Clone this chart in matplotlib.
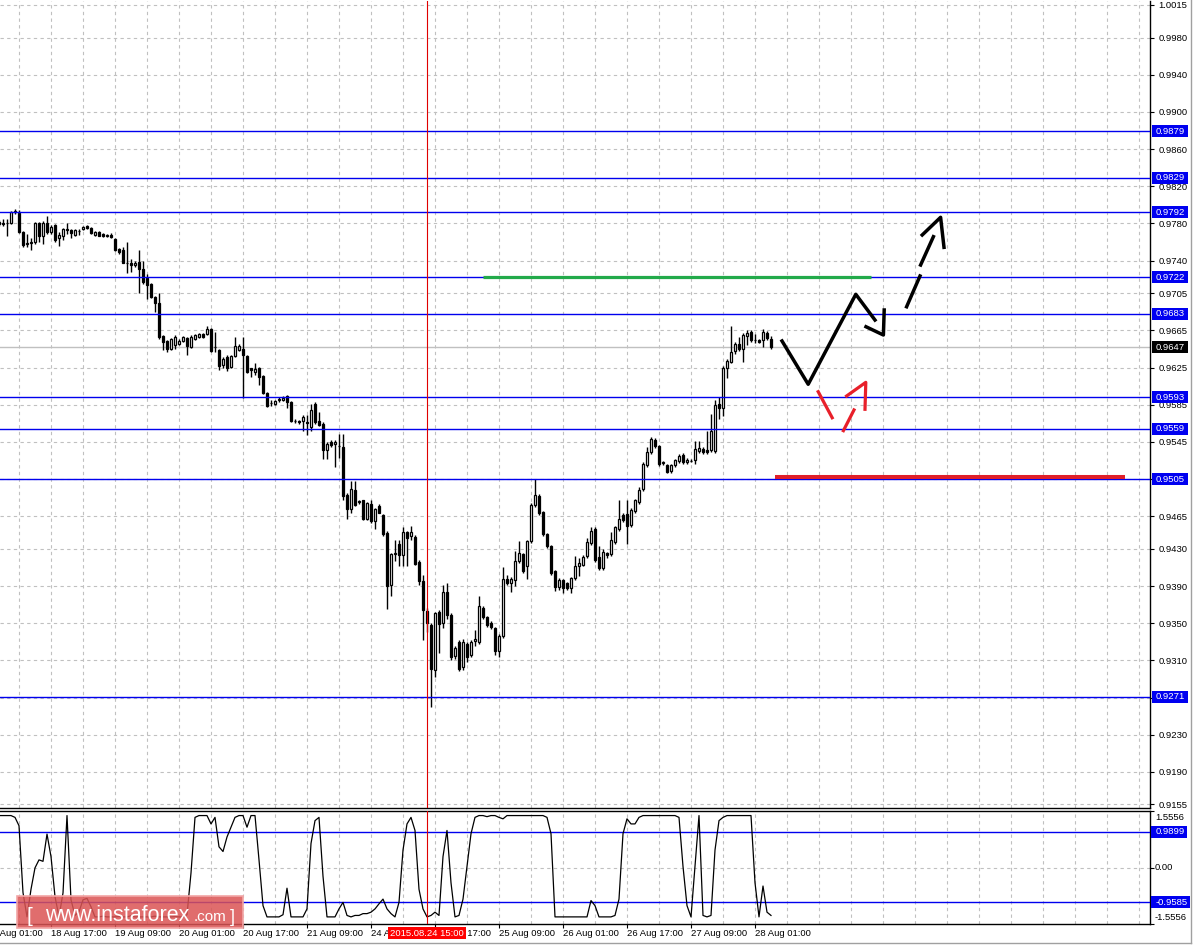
import matplotlib
matplotlib.use("Agg")
import matplotlib.pyplot as plt
import matplotlib.transforms as mtransforms
from matplotlib.patches import Rectangle
from matplotlib.lines import Line2D
import numpy as np

plt.rcParams['font.family'] = ['Liberation Sans', 'DejaVu Sans']

# ---------------- data (H1 bars, index 0 = 18 Aug 01:00) ----------------
first_bar = 3
opens = [
    .9779, .9780, .9780, .9780, .9792, .9791, .9771, .9758, .9759, .9760,
    .9780, .9767, .9780, .9771, .9778, .9764, .9767, .9773, .9773, .9768,
    .9772, .9774, .9777, .9775, .9768, .9771, .9769, .9767, .9768, .9763,
    .9753, .9751, .9738, .9738, .9735, .9739, .9731, .9721, .9715, .9701,
    .9694, .9659, .9654, .9645, .9649, .9650, .9654, .9657, .9647, .9656,
    .9658, .9661, .9661, .9667, .9647, .9644, .9628, .9636, .9626, .9637,
    .9644, .9645, .9637, .9624, .9620, .9624, .9616, .9598, .9587, .9586,
    .9590, .9590, .9594, .9588, .9567, .9568, .9567, .9566, .9561, .9586,
    .9568, .9564, .9536, .9545, .9543, .9541, .9539, .9488, .9473, .9493,
    .9480, .9482, .9462, .9478, .9460, .9476, .9466, .9447, .9391, .9424,
    .9435, .9423, .9448, .9444, .9443, .9416, .9395, .9363, .9348, .9300,
    .9362, .9350, .9384, .9359, .9315, .9330, .9303, .9328, .9316, .9331,
    .9330, .9366, .9357, .9350, .9345, .9320, .9336, .9398, .9393, .9397,
    .9417, .9424, .9411, .9438, .9477, .9487, .9470, .9446, .9433, .9406,
    .9389, .9397, .9393, .9388, .9399, .9411, .9413, .9422, .9436, .9451,
    .9421, .9409, .9425, .9424, .9437, .9451, .9466, .9467, .9456, .9471,
    .9480, .9494, .9520, .9534, .9547, .9541, .9522, .9520, .9514, .9520,
    .9524, .9531, .9523, .9525, .9526, .9535, .9537, .9536, .9536, .9535,
    .9586, .9582, .9624, .9631, .9643, .9650, .9645, .9659, .9663, .9655,
    .9655, .9655, .9662, .9656]
highs = [
    .9784, .9785, .9785, .9793, .9796, .9795, .9772, .9769, .9764, .9782,
    .9782, .9783, .9788, .9778, .9779, .9771, .9775, .9781, .9774, .9774,
    .9774, .9777, .9778, .9776, .9772, .9772, .9770, .9769, .9770, .9764,
    .9754, .9755, .9760, .9742, .9740, .9751, .9740, .9726, .9716, .9702,
    .9705, .9660, .9655, .9657, .9660, .9656, .9659, .9658, .9660, .9661,
    .9662, .9662, .9670, .9668, .9663, .9645, .9636, .9639, .9639, .9658,
    .9650, .9658, .9638, .9625, .9630, .9626, .9617, .9599, .9590, .9590,
    .9593, .9594, .9595, .9589, .9570, .9569, .9574, .9574, .9586, .9588,
    .9577, .9566, .9545, .9547, .9547, .9553, .9553, .9490, .9503, .9503,
    .9482, .9483, .9480, .9482, .9474, .9478, .9467, .9449, .9426, .9439,
    .9440, .9454, .9449, .9455, .9445, .9418, .9402, .9366, .9350, .9362,
    .9364, .9391, .9393, .9361, .9326, .9332, .9333, .9330, .9332, .9343,
    .9379, .9368, .9358, .9352, .9346, .9338, .9410, .9402, .9400, .9428,
    .9438, .9426, .9440, .9479, .9505, .9489, .9471, .9447, .9434, .9407,
    .9399, .9398, .9394, .9400, .9422, .9420, .9423, .9442, .9453, .9453,
    .9433, .9430, .9427, .9448, .9455, .9482, .9468, .9482, .9474, .9484,
    .9496, .9523, .9539, .9550, .9549, .9542, .9524, .9521, .9521, .9527,
    .9532, .9533, .9528, .9527, .9546, .9546, .9539, .9557, .9575, .9590,
    .9593, .9627, .9634, .9670, .9652, .9658, .9662, .9665, .9665, .9661,
    .9656, .9666, .9664, .9659]
lows = [
    .9777, .9777, .9767, .9779, .9790, .9770, .9755, .9755, .9751, .9758,
    .9760, .9758, .9769, .9769, .9760, .9756, .9762, .9769, .9764, .9766,
    .9768, .9773, .9774, .9769, .9767, .9766, .9765, .9765, .9764, .9750,
    .9747, .9737, .9727, .9728, .9733, .9705, .9715, .9699, .9700, .9685,
    .9656, .9644, .9642, .9644, .9645, .9649, .9653, .9639, .9646, .9655,
    .9657, .9657, .9660, .9642, .9642, .9622, .9624, .9621, .9624, .9636,
    .9643, .9592, .9619, .9615, .9617, .9606, .9597, .9583, .9584, .9585,
    .9588, .9589, .9581, .9566, .9565, .9564, .9557, .9552, .9557, .9564,
    .9562, .9527, .9527, .9540, .9518, .9528, .9482, .9462, .9468, .9476,
    .9478, .9461, .9461, .9458, .9451, .9468, .9444, .9365, .9379, .9417,
    .9411, .9411, .9411, .9440, .9413, .9391, .9332, .9340, .9260, .9292,
    .9318, .9345, .9355, .9310, .9312, .9299, .9300, .9308, .9314, .9325,
    .9328, .9355, .9346, .9344, .9316, .9314, .9334, .9391, .9384, .9390,
    .9415, .9404, .9398, .9436, .9475, .9466, .9444, .9431, .9402, .9385,
    .9386, .9383, .9386, .9383, .9397, .9401, .9412, .9420, .9434, .9416,
    .9407, .9407, .9420, .9422, .9435, .9449, .9459, .9435, .9454, .9469,
    .9478, .9492, .9518, .9532, .9538, .9519, .9520, .9512, .9512, .9518,
    .9522, .9521, .9521, .9523, .9521, .9533, .9532, .9532, .9534, .9533,
    .9570, .9573, .9614, .9630, .9640, .9643, .9631, .9649, .9653, .9651,
    .9651, .9647, .9655, .9645]
closes = [
    .9782, .9779, .9781, .9792, .9793, .9771, .9757, .9759, .9760, .9780,
    .9766, .9780, .9771, .9776, .9762, .9768, .9774, .9774, .9770, .9773,
    .9772, .9776, .9775, .9770, .9771, .9767, .9766, .9768, .9765, .9751,
    .9749, .9738, .9738, .9735, .9738, .9731, .9717, .9714, .9701, .9694,
    .9658, .9653, .9645, .9656, .9658, .9654, .9658, .9648, .9658, .9660,
    .9661, .9658, .9667, .9643, .9647, .9627, .9634, .9625, .9637, .9648,
    .9648, .9639, .9620, .9622, .9623, .9615, .9598, .9584, .9587, .9589,
    .9591, .9592, .9588, .9568, .9568, .9566, .9572, .9565, .9579, .9566,
    .9563, .9536, .9543, .9542, .9545, .9541, .9487, .9473, .9494, .9477,
    .9481, .9462, .9479, .9460, .9473, .9469, .9446, .9390, .9424, .9426,
    .9423, .9448, .9442, .9448, .9414, .9395, .9364, .9350, .9301, .9361,
    .9349, .9384, .9359, .9314, .9323, .9301, .9330, .9314, .9330, .9333,
    .9368, .9357, .9348, .9346, .9320, .9336, .9398, .9393, .9398, .9417,
    .9425, .9406, .9438, .9477, .9488, .9468, .9446, .9433, .9404, .9389,
    .9397, .9388, .9388, .9399, .9411, .9415, .9421, .9437, .9449, .9418,
    .9409, .9427, .9423, .9439, .9453, .9462, .9461, .9455, .9472, .9482,
    .9493, .9521, .9534, .9548, .9541, .9521, .9523, .9513, .9520, .9526,
    .9530, .9523, .9526, .9525, .9537, .9538, .9534, .9534, .9557, .9585,
    .9581, .9625, .9632, .9642, .9650, .9645, .9660, .9662, .9655, .9655,
    .9653, .9663, .9657, .9647]
indicator = [
    1.43, 1.43, 1.43, 1.43, 1.38, 1.15, -0.69, -1.36, -0.60, -0.01,
    0.21, 0.17, 0.92, 0.30, -0.80, -1.36, -0.70, 1.43, -0.89, -1.32,
    -1.22, -0.89, -0.85, -1.08, -1.36, -1.36, -1.34, -1.36, -1.36, -1.36,
    -1.35, -1.36, -1.36, -1.33, -1.36, -1.36, -1.36, -1.36, -1.36, -1.34,
    -1.36, -1.36, -1.36, -1.36, -1.35, -1.36, -1.36, -1.30, -0.15, 1.38,
    1.43, 1.43, 1.43, 1.20, 1.38, 0.57, 0.44, 0.84, 1.11, 1.38,
    1.43, 1.43, 1.11, 1.43, 1.43, 0.21, -1.05, -1.36, -1.36, -1.36,
    -1.36, -1.30, -0.57, -1.36, -1.36, -1.36, -1.36, -1.14, 0.66, 1.29,
    1.38, -0.24, -1.36, -1.36, -1.36, -1.14, -0.96, -1.32, -1.36, -1.32,
    -1.32, -1.27, -1.27, -1.23, -1.14, -1.00, -0.87, -1.14, -1.27, -1.36,
    -0.96, 0.48, 1.20, 1.38, 1.02, -0.60, -1.14, -1.36, -1.32, -1.23,
    -1.32, 0.30, 1.02, -0.42, -1.36, -1.32, -0.87, 0.03, 0.93, 1.38,
    1.43, 1.43, 1.40, 1.43, 1.43, 1.38, 1.34, 1.43, 1.43, 1.43,
    1.43, 1.43, 1.43, 1.43, 1.43, 1.43, 1.43, 1.38, 0.93, -1.36,
    -1.36, -1.36, -1.36, -1.36, -1.36, -1.36, -1.36, -1.36, -0.91, -1.05,
    -1.36, -1.36, -1.36, -1.36, -1.32, -0.87, 0.93, 1.34, 1.20, 1.20,
    1.38, 1.43, 1.43, 1.43, 1.43, 1.43, 1.43, 1.43, 1.43, 1.43,
    1.38, 0.03, -1.05, -1.36, 0.03, 1.43, -1.32, -1.36, -1.32, 0.48,
    1.29, 1.38, 1.43, 1.43, 1.43, 1.43, 1.43, 1.43, 1.43, -0.42,
    -1.36, -0.51, -1.23, -1.32]

time_labels = ['18 Aug 01:00', '18 Aug 17:00', '19 Aug 09:00', '20 Aug 01:00',
               '20 Aug 17:00', '21 Aug 09:00', '24 Aug 01:00', '24 Aug 17:00',
               '25 Aug 09:00', '26 Aug 01:00', '26 Aug 17:00', '27 Aug 09:00',
               '28 Aug 01:00']
time_label_bars = [0, 16, 32, 48, 64, 80, 96, 112, 128, 144, 160, 176, 192]

price_ticks = [1.0015, 0.9980, 0.9940, 0.9900, 0.9860, 0.9820, 0.9780, 0.9740,
               0.9705, 0.9665, 0.9625, 0.9585, 0.9545, 0.9505, 0.9465, 0.9430,
               0.9390, 0.9350, 0.9310, 0.9270, 0.9230, 0.9190, 0.9155]
level_lines = [0.9879, 0.9829, 0.9792, 0.9722, 0.9683, 0.9593, 0.9559, 0.9505, 0.9271]
bid_price = 0.9647
cursor_bar = 110
cursor_label = '2015.08.24 15:00'
ind_levels = [0.9899, -0.9585]
ind_extreme = 1.5556

# hand-drawn forecast objects (bar index, price)
green_bars = [124.0, 220.9]
green_prices = [0.9722, 0.9722]
red_bars = [197.0, 284.5]
red_prices = [0.9507, 0.9507]
zigzag_bars = [198.75, 205.3, 217.2, 222.0]
zigzag_prices = [0.96536, 0.96070, 0.97038, 0.96761]
zigzag_head_bars = [219.75, 224.1, 224.3]
zigzag_head_prices = [0.96689, 0.96600, 0.96869]
dash_segments = [([229.9, 233.25], [0.96904, 0.97235]),
                 ([233.4, 236.6], [0.97353, 0.97658])]
dash_head_bars = [233.8, 238.4, 239.25]
dash_head_prices = [0.97676, 0.97866, 0.97543]
red_dash_segments = [([207.8, 211.3], [0.95990, 0.95710]),
                     ([214.1, 216.75], [0.95571, 0.95794])]
red_head_bars = [214.9, 219.7, 219.5]
red_head_prices = [0.95944, 0.96091, 0.95801]

# ---------------- figure ----------------
W, H = 1194, 947
fig = plt.figure(figsize=(W / 100, H / 100), dpi=100)
fig.patch.set_facecolor('white')


def px_axes(x0, y0, x1, y1):
    return fig.add_axes([x0 / W, 1 - y1 / H, (x1 - x0) / W, (y1 - y0) / H])


AX_W = 1150
ax = px_axes(0, 1, AX_W, 808)
axi = px_axes(0, 811, AX_W, 924)

XL = (3.25, 290.75)
YL_MAIN = (0.91512, 1.00193)
MAIN_H = 807
IND_H = 113
GRID = dict(color='#C0C0C0', lw=0.8, ls=(0, (3, 3)), zorder=0)
FS = 6.8
BLUE_BOX = '#0000F0'

for a in (ax, axi):
    a.set_facecolor('white')
    for b in range(8, 291, 8):
        a.axvline(b, **GRID)
    a.spines['left'].set_visible(False)
    for s in ('right', 'bottom', 'top'):
        a.spines[s].set_color('black')
        a.spines[s].set_linewidth(1.0)
ax.spines['top'].set_visible(False)

# main panel
for p in price_ticks:
    ax.axhline(p, **GRID)
ax.yaxis.tick_right()
ax.set_yticks(price_ticks)
ax.set_yticklabels([f'{p:.4f}' for p in price_ticks])
ax.tick_params(axis='y', direction='out', length=3, width=0.8, pad=3, labelsize=FS)
ax.set_xticks([])

x = np.arange(first_bar, first_bar + len(opens))
o = np.array(opens); h = np.array(highs); l = np.array(lows); c = np.array(closes)
ax.vlines(x, l, h, color='black', lw=1.0, zorder=3)
bottoms = np.minimum(o, c)
heights = np.abs(c - o)
fcols = ['white' if cc >= oo else 'black' for oo, cc in zip(o, c)]
ax.bar(x, heights, width=0.62, bottom=bottoms, color=fcols, edgecolor='black',
       linewidth=0.9, zorder=4)

ax.axhline(bid_price, color='#C0C0C0', lw=1.0, zorder=2)
for lv in level_lines:
    ax.axhline(lv, color='#0000EE', lw=1.0, zorder=5)
ax.axvline(cursor_bar, color='#E00000', lw=0.8, zorder=6)

# forecast drawings
ax.plot(green_bars, green_prices, color='#22AA4A', lw=2.3, solid_capstyle='butt', zorder=7)
ax.plot(red_bars, red_prices, color='#E0202A', lw=2.9, solid_capstyle='butt', zorder=7)
ax.plot(zigzag_bars, zigzag_prices, color='black', lw=2.5, zorder=8)
ax.plot(zigzag_head_bars, zigzag_head_prices, color='black', lw=2.5, zorder=8)
for sx, sy in dash_segments:
    ax.plot(sx, sy, color='black', lw=2.5, zorder=8)
ax.plot(dash_head_bars, dash_head_prices, color='black', lw=2.5, zorder=8)
for sx, sy in red_dash_segments:
    ax.plot(sx, sy, color='#E8202A', lw=2.3, zorder=8)
ax.plot(red_head_bars, red_head_prices, color='#E8202A', lw=2.3, zorder=8)

ax.set_xlim(*XL)
ax.set_ylim(*YL_MAIN)


def boxed_label(axis, value, text, fc, units_per_px, x0_px=2, w_px=36, h_px=12):
    tr = mtransforms.blended_transform_factory(axis.transAxes, axis.transData)
    axis.add_patch(Rectangle((1 + x0_px / AX_W, value - h_px / 2 * units_per_px),
                             w_px / AX_W, h_px * units_per_px, transform=tr,
                             fc=fc, ec='none', zorder=9, clip_on=False))
    trt = mtransforms.offset_copy(tr, fig=fig, x=6, y=0, units='dots')
    axis.text(1.0, value, text, transform=trt, ha='left', va='center',
              fontsize=FS, color='white', zorder=10, clip_on=False)


main_upp = (YL_MAIN[1] - YL_MAIN[0]) / MAIN_H
for lv in level_lines:
    boxed_label(ax, lv, f'{lv:.4f}', BLUE_BOX, main_upp)
boxed_label(ax, bid_price, f'{bid_price:.4f}', 'black', main_upp)

# indicator panel
axi.axhline(0, **GRID)
for lv in ind_levels:
    axi.axhline(lv, color='#0000EE', lw=1.0, zorder=3)
xi = np.arange(first_bar, first_bar + len(indicator))
axi.plot(xi, indicator, color='black', lw=0.9, zorder=4)
axi.axvline(cursor_bar, color='#E00000', lw=0.8, zorder=5)
axi.yaxis.tick_right()
axi.set_yticks([ind_extreme, 0, -ind_extreme])
axi.set_yticklabels([])
axi.tick_params(axis='y', direction='out', length=3, width=0.8)
axi.set_xticks(time_label_bars)
axi.set_xticklabels([])
axi.tick_params(axis='x', direction='out', length=3, width=0.8)
axi.set_xlim(*XL)
axi.set_ylim(-ind_extreme, ind_extreme)

tr_ind = mtransforms.offset_copy(
    mtransforms.blended_transform_factory(axi.transAxes, axi.transData),
    fig=fig, x=5, y=0, units='dots')
for val, txt in [(1.39, f'{ind_extreme:.4f}'), (0.0, '0.00'), (-1.39, f'{-ind_extreme:.4f}')]:
    axi.text(1.0, val, txt, transform=tr_ind, ha='left', va='center', fontsize=FS,
             color='black', clip_on=False)
ind_upp = 2 * ind_extreme / IND_H
for lv in ind_levels:
    boxed_label(axi, lv, f'{lv:.4f}', BLUE_BOX, ind_upp, x0_px=1,
                w_px=(36 if lv > 0 else 39))

# time labels
tr_time = mtransforms.offset_copy(
    mtransforms.blended_transform_factory(axi.transData, axi.transAxes),
    fig=fig, x=0, y=-9, units='dots')
for b, lab in zip(time_label_bars, time_labels):
    axi.text(b, 0, lab, transform=tr_time, ha='left', va='center', fontsize=FS,
             color='black', clip_on=False)
tr_cur = mtransforms.offset_copy(
    mtransforms.blended_transform_factory(axi.transData, axi.transAxes),
    fig=fig, x=0, y=-9, units='dots')
axi.text(cursor_bar, 0, cursor_label, transform=tr_cur, ha='center', va='center',
         fontsize=FS, color='white', zorder=20, clip_on=False,
         bbox=dict(boxstyle='square,pad=0.2', fc='#FF0000', ec='none'))

# outer frame lines
fig.add_artist(Line2D([0, 1191 / W], [1 - 943 / H] * 2, color='#A0A0A0', lw=1.0))
fig.add_artist(Line2D([1191 / W] * 2, [1 - 943 / H, 1], color='#A0A0A0', lw=1.0))

# watermark
fig.add_artist(Rectangle((17 / W, 1 - 928 / H), 226 / W, 32 / H, transform=fig.transFigure,
                         fc=(0.86, 0.33, 0.33, 0.85), ec=(0.95, 0.65, 0.65), lw=1.2))
fig.text(27 / W, 1 - 922 / H, '[', fontsize=15, color='white', va='baseline')
fig.text(45 / W, 1 - 921 / H, 'www.instaforex', fontsize=15.5, color='white', va='baseline')
fig.text(194 / W, 1 - 921 / H, '.com', fontsize=11, color='white', va='baseline')
fig.text(230 / W, 1 - 922 / H, ']', fontsize=13, color='white', va='baseline')

fig.savefig('out.png', dpi=100, facecolor='white')
